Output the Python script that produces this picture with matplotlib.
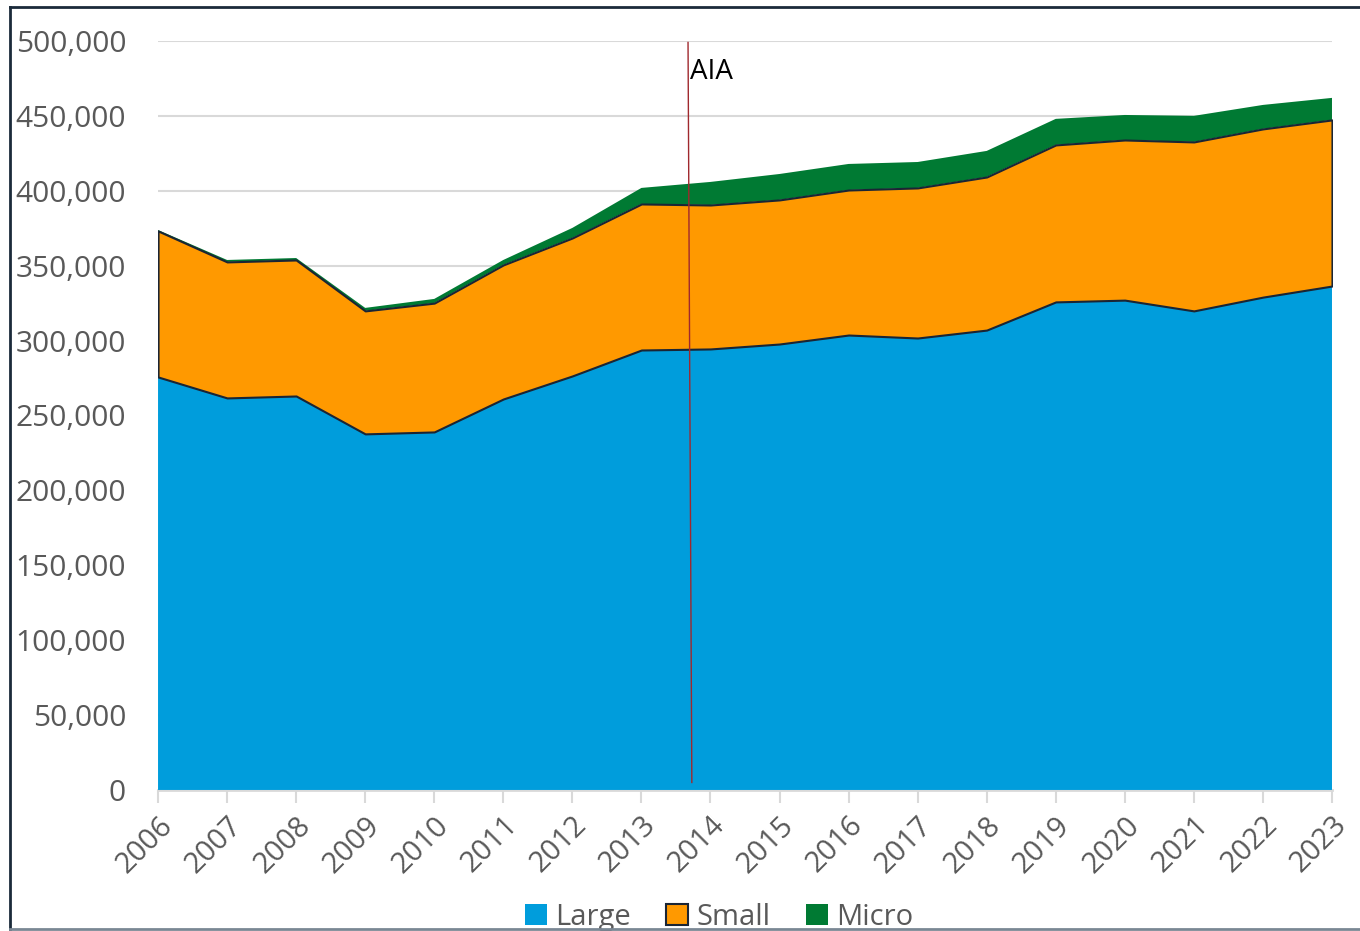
import matplotlib.pyplot as plt
from matplotlib.lines import Line2D
from matplotlib.ticker import FuncFormatter
import numpy as np

plt.rcParams['font.family'] = ['Open Sans', 'DejaVu Sans']

# datos
years = list(range(2006, 2024))
large = [275700, 261700, 263000, 237700, 239000, 261000, 276400, 293700, 294400,
         297700, 303700, 301700, 307000, 325800, 327000, 319800, 329000, 336400]
small = [97500, 90800, 90800, 82100, 86000, 89500, 92100, 97500, 96100,
         96200, 96800, 100200, 102200, 104800, 106900, 112800, 112300, 110900]
micro = [600, 1300, 1300, 2000, 2800, 3300, 6700, 10700, 15400,
         17300, 17400, 17300, 17400, 17400, 16700, 17400, 16000, 14700]

c_large = '#009DDC'
c_small = '#FF9900'
c_micro = '#007A33'
gris = '#595959'

x = np.array(years)
l = np.array(large)
s = l + np.array(small)
t = s + np.array(micro)

fig = plt.figure(figsize=(13.6, 9.31), dpi=100)
ax = fig.add_axes([0.1162, 0.1515, 0.8632, 0.8045])

ax.fill_between(x, 0, l, facecolor=c_large, edgecolor='none', zorder=2, label='Large')
ax.fill_between(x, l, s, facecolor=c_small, edgecolor='#1A2535', linewidth=1.5,
                zorder=3, label='Small')
ax.fill_between(x, s, t, facecolor=c_micro, edgecolor='none', zorder=2, label='Micro')

# linea AIA
ax.plot([2013.675, 2013.73], [499000, 5000], color='#A0282D', linewidth=1, zorder=5)
ax.text(2013.71, 479000, 'AIA', fontsize=20, color='black', ha='left', va='center', zorder=6)

ax.set_xlim(2006, 2023)
ax.set_ylim(0, 500000)
ax.set_yticks(np.arange(0, 500001, 50000))
ax.yaxis.set_major_formatter(FuncFormatter(lambda v, p: f'{int(v):,}'))
ax.set_xticks(years)
ax.set_xticklabels([str(y) for y in years], rotation=45, ha='right',
                   rotation_mode='anchor')

ax.grid(axis='y', color='#D9D9D9', linewidth=1.5, zorder=0)
ax.set_axisbelow(True)
for sp in ['top', 'right', 'left']:
    ax.spines[sp].set_visible(False)
ax.spines['bottom'].set_color('#D9D9D9')
ax.spines['bottom'].set_linewidth(2)
ax.spines['bottom'].set_zorder(1)

ax.tick_params(axis='y', length=0, pad=23, labelsize=21.5, labelcolor=gris)
ax.tick_params(axis='x', length=9, width=1.5, color='#D9D9D9', pad=6,
               labelsize=21, labelcolor=gris)

leg = ax.legend(loc='upper center', bbox_to_anchor=(0.478, -0.135), ncol=3,
                frameon=False, fontsize=21, handlelength=0.75, handleheight=0.75,
                handletextpad=0.3, columnspacing=1.2, borderaxespad=0)
for txt in leg.get_texts():
    txt.set_color(gris)

# marco
fig.add_artist(Line2D([0.0074, 1.0], [0.9925, 0.9925], transform=fig.transFigure,
                      color='#1B2A3A', linewidth=2))
fig.add_artist(Line2D([0.0074, 0.0074], [0.0021, 0.9925], transform=fig.transFigure,
                      color='#1B2A3A', linewidth=2))
fig.add_artist(Line2D([0.0074, 1.0], [0.0021, 0.0021], transform=fig.transFigure,
                      color='#7A8794', linewidth=2))

fig.savefig('out.png', dpi=100)
